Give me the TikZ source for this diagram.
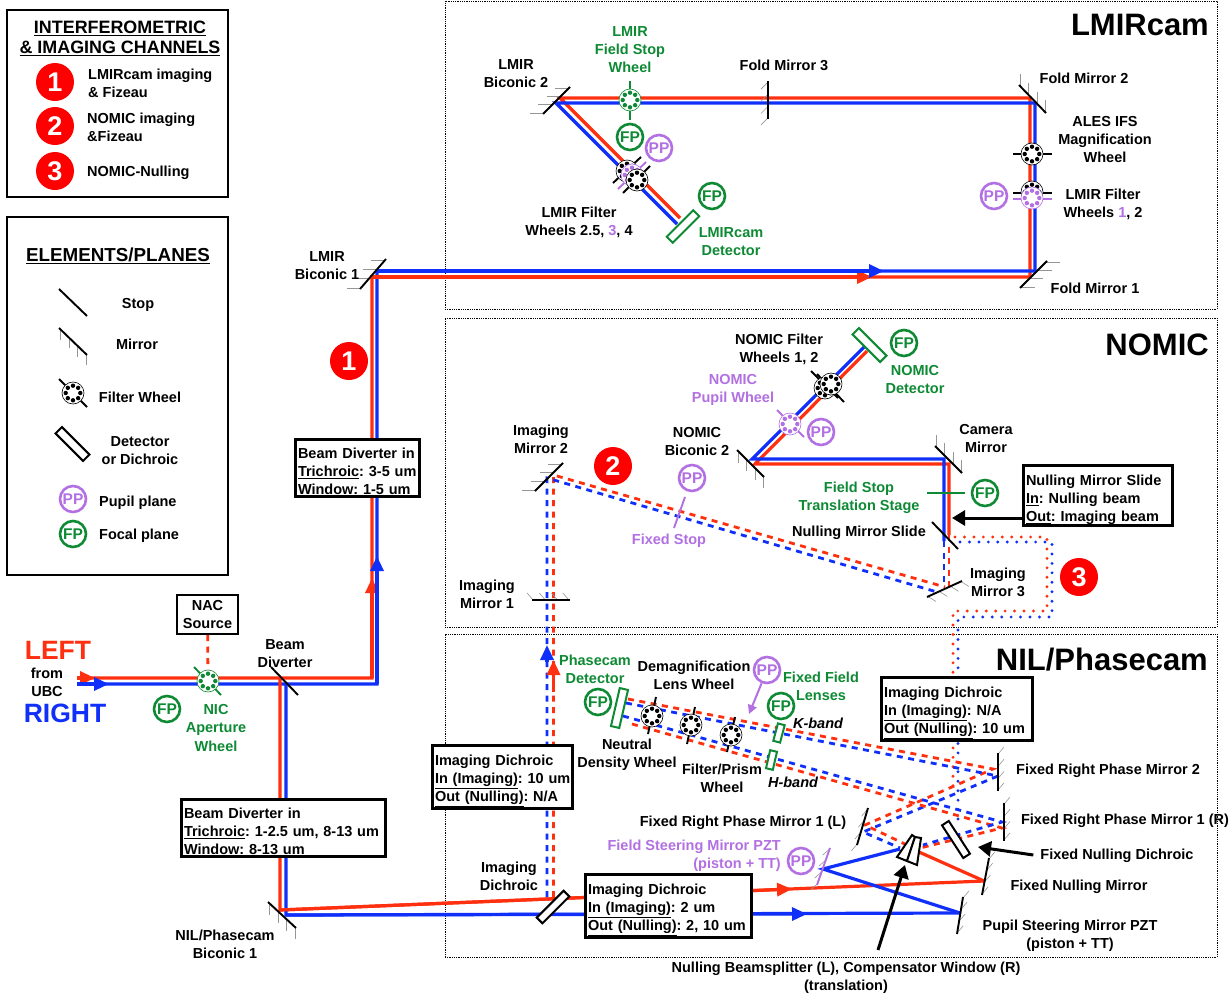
\documentclass[tikz,border=0pt]{standalone}
\usepackage{fontspec}
\setmainfont{Liberation Sans}
\usetikzlibrary{arrows.meta,calc}
\definecolor{beamred}{RGB}{255,48,16}
\definecolor{beamblue}{RGB}{16,48,250}
\definecolor{fpgreen}{RGB}{14,138,52}
\definecolor{ppplum}{RGB}{178,112,226}
\definecolor{hatchgray}{RGB}{150,150,150}
\newcommand{\mirrorline}[4][black]{%
  \foreach \pos in {0.03,0.35,0.67,0.97} \draw[hatchline] ($#2!\pos!#3$) -- ++#4;
  \draw[stopline,draw=#1] #2 -- #3;
}
\newcommand{\opticwheel}[3]{%
  \node[wheelnode,draw=#3] (#1) at #2 {};
  \foreach \ang in {0,45,...,315} \fill[#3] (#1) ++(\ang:7.3) circle (2.2pt);
}
\begin{document}
\begin{tikzpicture}[x=1pt,y=-1pt]
\tikzset{
  lbl/.style={inner sep=0pt,yshift=-1pt,align=center,font=\fontsize{14.5}{18}\selectfont\bfseries\frenchspacing},
  greenlbl/.style={lbl,text=fpgreen},
  plumlbl/.style={lbl,text=ppplum},
  lefttext/.style={lbl,anchor=west,align=left},
  paneltitle/.style={inner sep=0pt,anchor=east,font=\fontsize{31}{31}\selectfont\bfseries},
  panelbox/.style={draw=black,line width=0.8pt,densely dotted,inner sep=0pt},
  legendbox/.style={draw=black,line width=2pt,fill=white,inner sep=0pt},
  infobox/.style={draw=black,line width=3pt,fill=white,inner xsep=3pt,inner ysep=1pt,align=left,text width=#1,font=\fontsize{14.5}{18}\selectfont\bfseries\frenchspacing,execute at begin node={\rule{0pt}{19pt}}},
  channode/.style={circle,fill=red,text=white,inner sep=0pt,minimum size=38pt,font=\fontsize{27}{27}\selectfont\bfseries},
  ppnode/.style={circle,draw=ppplum,fill=white,text=ppplum,line width=2.6pt,inner sep=0pt,minimum size=26pt,font=\fontsize{15.5}{15.5}\selectfont\bfseries},
  fpnode/.style={circle,draw=fpgreen,fill=white,text=fpgreen,line width=2.6pt,inner sep=0pt,minimum size=26pt,font=\fontsize{15.5}{15.5}\selectfont\bfseries},
  wheelnode/.style={circle,fill=white,line width=0.6pt,inner sep=0pt,minimum size=22pt},
  detbox/.style={rectangle,draw=black,fill=white,line width=2pt,inner sep=0pt},
  stopline/.style={draw=black,line width=1.9pt},
  hatchline/.style={draw=hatchgray,line width=0.6pt},
  redbeam/.style={draw=beamred,line width=3.2pt},
  bluebeam/.style={draw=beamblue,line width=3.2pt},
  beamdash/.style={line width=2.8pt,dash pattern=on 6pt off 5.5pt},
  beamdot/.style={line cap=round,dash pattern=on 0pt off 9.45pt},
  redtip/.style={redbeam,-{Triangle[length=15pt,width=13pt]}},
  bluetip/.style={bluebeam,-{Triangle[length=15pt,width=13pt]}},
  callout/.style={draw=black,line width=3pt,-{Triangle[length=13pt,width=15pt]}}
}
\useasboundingbox (0,0) rectangle (1232,996);
\fill[white] (0,0) rectangle (1232,996);
\node[panelbox,minimum width=772,minimum height=308] (p_lmir) at (831,155) {};
\node[panelbox,minimum width=772,minimum height=309] (p_nomic) at (831,472.5) {};
\node[panelbox,minimum width=772,minimum height=323] (p_nil) at (831,795.5) {};
\node[paneltitle] (t_lmir) at (1209,25) {LMIRcam};
\node[paneltitle] (t_nomic) at (1209,345) {NOMIC};
\node[paneltitle] (t_nil) at (1208,660) {NIL/Phasecam};
\node[legendbox,minimum width=221,minimum height=187] (box_chan) at (117.5,103.5) {};
\node[legendbox,minimum width=221,minimum height=358] (box_elem) at (117.5,396) {};

\coordinate (r_in) at (77,678);
\coordinate (r_turn) at (372,678);
\coordinate (r_bic1) at (372,277);
\coordinate (r_fold1) at (1030,277);
\coordinate (r_fold2) at (1030,98);
\coordinate (r_bic2) at (560,98);
\coordinate (r_det) at (680,218);
\coordinate (r_div) at (280,678);
\coordinate (r_nil) at (280,910);
\coordinate (r_null) at (984,881);
\coordinate (b_in) at (77,684);
\coordinate (b_turn) at (377,684);
\coordinate (b_bic1) at (377,271);
\coordinate (b_fold1) at (1035,271);
\coordinate (b_fold2) at (1035,103);
\coordinate (b_bic2) at (556,103);
\coordinate (b_det) at (677,224);
\coordinate (b_div) at (286,684);
\coordinate (b_nil) at (286,915);
\coordinate (b_pupil) at (960,913);
\coordinate (r_tip_in) at (95,678);
\coordinate (b_tip_in) at (109,684);
\coordinate (r_tip_up) at (372,578);
\coordinate (b_tip_up) at (377,556);
\coordinate (r_tip_top) at (872,277);
\coordinate (b_tip_top) at (884,271);
\coordinate (r_tip_nil) at (792,889);
\coordinate (b_tip_nil) at (807,914);
\draw[redbeam,line join=miter] (r_in) -- (r_turn) -- (r_bic1) -- (r_fold1) -- (r_fold2) -- (r_bic2) -- (r_det);
\draw[bluebeam,line join=miter] (b_in) -- (b_turn) -- (b_bic1) -- (b_fold1) -- (b_fold2) -- (b_bic2) -- (b_det);
\draw[redbeam] (r_div) -- (r_nil) -- (r_null);
\draw[bluebeam] (b_div) -- (b_nil) -- (b_pupil);
\draw[redtip] (r_in) -- (r_tip_in);
\draw[bluetip] (b_in) -- (b_tip_in);
\draw[redtip] (r_turn) -- (r_tip_up);
\draw[bluetip] (b_turn) -- (b_tip_up);
\draw[redtip] (r_bic1) -- (r_tip_top);
\draw[bluetip] (b_bic1) -- (b_tip_top);
\draw[redtip] (r_nil) -- (r_tip_nil);
\draw[bluetip] (b_nil) -- (b_tip_nil);

\coordinate (r_dich) at (553.5,897);
\coordinate (r_img2) at (553.5,475);
\coordinate (r_img3) at (945,587);
\coordinate (b_dich) at (547,897);
\coordinate (b_img2) at (547,478);
\coordinate (b_img3) at (937,592);
\coordinate (r_tip_img) at (553.5,660);
\coordinate (b_tip_img) at (547,645);
\draw[redbeam,beamdash] (r_dich) -- (r_img2) -- (r_img3);
\draw[bluebeam,beamdash] (b_dich) -- (b_img2) -- (b_img3);
\draw[redtip] (r_dich) ++(0,-205) coordinate (r_tail_img) -- (r_tip_img);
\draw[bluetip] (b_dich) ++(0,-235) coordinate (b_tail_img) -- (b_tip_img);

\coordinate (r_ndet) at (867,351);
\coordinate (r_nbic) at (755,464);
\coordinate (r_cam) at (949,464);
\coordinate (r_slide) at (949,535);
\coordinate (r_m3) at (949,587);
\coordinate (b_ndet) at (864,347);
\coordinate (b_nbic) at (752,459);
\coordinate (b_cam) at (944,459);
\coordinate (b_slide) at (944,541);
\coordinate (b_m3) at (944,584);
\draw[redbeam] (r_ndet) -- (r_nbic) -- (r_cam) -- (r_slide);
\draw[bluebeam] (b_ndet) -- (b_nbic) -- (b_cam) -- (b_slide);
\draw[redbeam,beamdash] (r_slide) -- (r_m3);
\draw[bluebeam,beamdash] (b_slide) -- (b_m3);

\coordinate (r_dot_a) at (955,537);
\coordinate (r_dot_b) at (1047,537);
\coordinate (r_dot_c) at (1047,611);
\coordinate (r_dot_d) at (953,611);
\coordinate (r_dot_e) at (953,793);
\coordinate (b_dot_a) at (960,542);
\coordinate (b_dot_b) at (1052,542);
\coordinate (b_dot_c) at (1052,617);
\coordinate (b_dot_d) at (958,617);
\coordinate (b_dot_e) at (958,828);
\draw[redbeam,beamdot] (r_dot_a) -- (r_dot_b) -- (r_dot_c) -- (r_dot_d) -- (r_dot_e);
\draw[bluebeam,beamdot] (b_dot_a) -- (b_dot_b) -- (b_dot_c) -- (b_dot_d) -- (b_dot_e);

\coordinate (r_pc_a) at (628,699);
\coordinate (r_rm2) at (993,769);
\coordinate (r_lm1) at (865,825);
\coordinate (r_bs_l) at (907,845);
\coordinate (b_pc_a) at (626,703);
\coordinate (b_rm2) at (998,776);
\coordinate (b_lm1) at (863,832);
\coordinate (b_bs_l) at (900,848);
\coordinate (r_pc_b) at (632,724);
\coordinate (r_rm1) at (1002,828);
\coordinate (r_bs_r) at (920,848);
\coordinate (b_pc_b) at (623,716);
\coordinate (b_rm1) at (1002,822);
\coordinate (b_bs_r) at (923,845);
\draw[redbeam,beamdash] (r_pc_a) -- (r_rm2) -- (r_lm1) -- (r_bs_l);
\draw[bluebeam,beamdash] (b_pc_a) -- (b_rm2) -- (b_lm1) -- (b_bs_l);
\draw[redbeam,beamdash] (r_pc_b) -- (r_rm1) -- (r_bs_r);
\draw[bluebeam,beamdash] (b_pc_b) -- (b_rm1) -- (b_bs_r);
\coordinate (b_steer) at (823,869);
\coordinate (b_bs_in) at (900,849);
\coordinate (r_bs_in) at (919,852);
\draw[bluebeam] (b_pupil) -- (b_steer) -- (b_bs_in);
\draw[redbeam] (r_null) -- (r_bs_in);

\mirrorline{(360,289)}{(386,259)}{(-14,0)}
\mirrorline{(1020,288)}{(1047,261)}{(14,0)}
\mirrorline{(1019,85)}{(1046,113)}{(0,-12)}
\mirrorline{(543,114)}{(570,87)}{(-14,0)}
\mirrorline{(768,81)}{(768,119)}{(-7,7)}
\mirrorline{(268,902)}{(296,928)}{(0,12)}
\mirrorline{(737,450)}{(764,477)}{(0,12)}
\mirrorline{(935,446)}{(962,473)}{(0,-12)}
\mirrorline{(927,597)}{(962,581)}{(8,5)}
\mirrorline{(532,600)}{(570,600)}{(-6,-7)}
\mirrorline{(535,491)}{(563,463)}{(-14,0)}
\mirrorline{(998,753)}{(998,791)}{(6,-7)}
\mirrorline{(1004,803)}{(1004,841)}{(6,-7)}
\mirrorline{(857,845)}{(868,808)}{(-6,7)}
\mirrorline{(982,895)}{(989,858)}{(6,-7)}
\mirrorline{(957,934)}{(963,897)}{(6,-7)}
\mirrorline[ppplum]{(817,885)}{(830,848)}{(-7,6)}
\mirrorline{(59,328)}{(87,355)}{(0,11)}
\draw[stopline] (59,289) -- (87,316);
\draw[stopline] (271,667) -- (298,695);
\draw[stopline] (932,522) -- (958,549);
\draw[stopline,draw=fpgreen] (194,667) -- (221,695);
\draw[stopline,draw=fpgreen] (630,81) -- (630,120);
\draw[stopline,draw=fpgreen] (927,493) -- (965,493);
\draw[stopline,draw=ppplum] (685,497) -- (674,528);
\draw[stopline] (59,379) -- (87,407);
\draw[stopline] (613,183) -- (641,157);
\draw[stopline,draw=ppplum] (618,189) -- (646,162);
\draw[stopline] (623,193) -- (650,166);
\draw[stopline] (1013,154) -- (1052,154);
\draw[stopline] (1013,193) -- (1052,193);
\draw[stopline,draw=ppplum] (1013,199) -- (1052,199);
\draw[stopline] (811,371) -- (838,398);
\draw[stopline] (817,374) -- (844,402);
\draw[stopline,draw=ppplum] (777,410) -- (804,437);
\draw[stopline] (656,697) -- (648,734);
\draw[stopline] (695,707) -- (687,744);
\draw[stopline] (735,717) -- (727,752);

\opticwheel{w_field}{(630,100)}{fpgreen}
\opticwheel{w_lf_a}{(627,171)}{black}
\opticwheel{w_lf_b}{(632,175)}{ppplum}
\opticwheel{w_lf_c}{(637,180)}{black}
\opticwheel{w_ales}{(1032,154)}{black}
\opticwheel{w_lmf_a}{(1032,192)}{black}
\opticwheel{w_lmf_b}{(1032,198)}{ppplum}
\opticwheel{w_nic}{(208,681)}{fpgreen}
\opticwheel{w_nf_a}{(825,388)}{black}
\opticwheel{w_nf_b}{(831,384)}{black}
\opticwheel{w_npupil}{(790,424)}{ppplum}
\opticwheel{w_demag}{(652,716)}{black}
\opticwheel{w_nd}{(691,725)}{black}
\opticwheel{w_prism}{(731,735)}{black}
\opticwheel{w_legend}{(73,393)}{black}

\node[detbox,rotate=-45,minimum width=39,minimum height=9] (d_legend) at (72.5,444) {};
\node[detbox,draw=fpgreen,rotate=45,minimum width=37.5,minimum height=8.5] (d_lmir) at (683,226.5) {};
\node[detbox,draw=fpgreen,rotate=-45,minimum width=39,minimum height=9] (d_nomic) at (869.5,345) {};
\node[detbox,rotate=45,minimum width=38,minimum height=8] (d_dich) at (553,907) {};
\node[detbox,draw=fpgreen,rotate=77,minimum width=39,minimum height=8.5] (d_phase) at (619.5,708) {};
\node[detbox,draw=fpgreen,rotate=75,minimum width=18,minimum height=7] (d_kband) at (779,733) {};
\node[detbox,draw=fpgreen,rotate=77,minimum width=18.5,minimum height=7] (d_hband) at (771.5,760) {};
\node[detbox,rotate=-57,minimum width=39,minimum height=8] (d_null) at (956,839.5) {};
\draw[detbox] (912,835) -- (897,857) -- (907,861) -- (915,837) -- cycle;
\draw[detbox] (915,837) -- (907,861) -- (917,865) -- (921,838) -- cycle;

\node[lbl,font=\fontsize{17.9}{20}\selectfont\bfseries] (t_chan) at (120,37) {\underline{INTERFEROMETRIC}\\\underline{\& IMAGING CHANNELS}};
\node[lbl,font=\fontsize{18.8}{20}\selectfont\bfseries] (t_elem) at (118,255) {\underline{ELEMENTS/PLANES}};
\node[channode] (c_leg1) at (55,82) {1};
\node[channode] (c_leg2) at (55,126) {2};
\node[channode] (c_leg3) at (55,171) {3};
\node[lefttext] (t_leg1) at (88,82) {LMIRcam imaging\\\& Fizeau};
\node[lefttext] (t_leg2) at (87,126) {NOMIC imaging\\\&Fizeau};
\node[lefttext] (t_leg3) at (87,172) {NOMIC-Nulling};
\node[lbl] (t_stop) at (138,304) {Stop};
\node[lbl] (t_mirror) at (137,343) {Mirror};
\node[lbl] (t_wheel) at (140,396) {Filter Wheel};
\node[lbl] (t_detector) at (140,450) {Detector\\or Dichroic};
\node[ppnode] (pp_legend) at (73,499) {PP};
\node[fpnode] (fp_legend) at (73,534) {FP};
\node[lefttext] (t_pupil) at (99,502) {Pupil plane};
\node[lefttext] (t_focal) at (99,535) {Focal plane};

\node[channode] (c_beam1) at (349,361) {1};
\node[channode] (c_beam2) at (613,466) {2};
\node[channode] (c_beam3) at (1079,577) {3};

\node[lbl,text=beamred,font=\fontsize{26.5}{27}\selectfont\bfseries] (t_left) at (58,649) {LEFT};
\node[lbl,text=beamblue,font=\fontsize{26.5}{27}\selectfont\bfseries] (t_right) at (65,712) {RIGHT};
\node[lbl] (t_ubc) at (47,681) {from\\UBC};
\node[lbl] (t_bic1) at (327,265) {LMIR\\Biconic 1};
\node[lbl] (t_bic2) at (516,73) {LMIR\\Biconic 2};
\node[greenlbl] (t_fstop) at (630,49) {LMIR\\Field Stop\\Wheel};
\node[lbl] (t_fold3) at (784,64) {Fold Mirror 3};
\node[lbl] (t_fold2) at (1084,77) {Fold Mirror 2};
\node[lbl] (t_fold1) at (1095,287) {Fold Mirror 1};
\node[lbl] (t_ales) at (1105,139) {ALES IFS\\Magnification\\Wheel};
\node[lbl] (t_lf12) at (1103,203) {LMIR Filter\\Wheels {\color{ppplum}1}, 2};
\node[lbl] (t_lf25) at (579,221) {LMIR Filter\\Wheels 2.5, {\color{ppplum}3}, 4};
\node[greenlbl] (t_ldet) at (731,241) {LMIRcam\\Detector};
\node[fpnode] (fp_field) at (630,137) {FP};
\node[ppnode] (pp_lf) at (659,148) {PP};
\node[fpnode] (fp_ldet) at (712,196) {FP};
\node[ppnode] (pp_lmf) at (994,196) {PP};

\node[lbl] (t_nf) at (779,348) {NOMIC Filter\\Wheels 1, 2};
\node[plumlbl] (t_npw) at (733,389) {NOMIC\\Pupil Wheel};
\node[greenlbl] (t_ndet) at (915,379) {NOMIC\\Detector};
\node[fpnode] (fp_ndet) at (904,343) {FP};
\node[ppnode] (pp_npw) at (821,432) {PP};
\node[lbl] (t_nbic) at (697,441) {NOMIC\\Biconic 2};
\node[ppnode] (pp_fixed) at (692,478) {PP};
\node[plumlbl] (t_fixed) at (669,540) {Fixed Stop};
\node[lbl] (t_cam) at (986,438) {Camera\\Mirror};
\node[fpnode] (fp_stage) at (985,493) {FP};
\node[greenlbl] (t_stage) at (859,497) {Field Stop\\Translation Stage};
\node[lbl] (t_nslide) at (859,532) {Nulling Mirror Slide};
\node[lbl] (t_img2) at (541,438.5) {Imaging\\Mirror 2};
\node[lbl] (t_img1) at (487,593.5) {Imaging\\Mirror 1};
\node[lbl] (t_img3) at (998,581) {Imaging\\Mirror 3};
\node[infobox=143,inner ysep=0.5pt] (box_slide) at (1097.5,495.5) {Nulling Mirror Slide\\\underline{In}: Nulling beam\\\underline{Out}: Imaging beam};
\coordinate (c_slide_tip) at (952,518);
\draw[callout] (box_slide.west |- c_slide_tip) -- (c_slide_tip);

\node[lbl] (t_beam) at (285,652.5) {Beam\\Diverter};
\node[lbl,draw=black,fill=white,line width=2pt,minimum width=61,minimum height=39] (box_nac) at (207.5,613.5) {NAC\\Source};
\draw[redbeam,beamdash] (box_nac) -- (w_nic);
\node[greenlbl] (t_nic) at (216,727) {NIC\\Aperture\\Wheel};
\node[fpnode] (fp_nic) at (167,709) {FP};
\node[infobox=118,inner ysep=0pt] (box_div1) at (357,468) {Beam Diverter in\\\mbox{\underline{Trichroic}: 3-5 um}\\\underline{Window}: 1-5 um};
\node[infobox=198,inner ysep=0pt,execute at begin node={\rule{0pt}{16pt}}] (box_div2) at (283,828) {Beam Diverter in\\\underline{Trichroic}: 1-2.5 um, 8-13 um\\\underline{Window}: 8-13 um};
\node[lbl] (t_nilbic) at (225,943) {NIL/Phasecam\\Biconic 1};
\node[lbl] (t_dich) at (509,875) {Imaging\\Dichroic};

\node[greenlbl] (t_pdet) at (595,668.5) {Phasecam\\Detector};
\node[fpnode] (fp_pdet) at (598,702) {FP};
\node[lbl] (t_demag) at (694,674.5) {Demagnification\\Lens Wheel};
\node[lbl] (t_nd) at (627,754) {Neutral\\Density Wheel};
\node[lbl] (t_prism) at (722,777) {Filter/Prism\\Wheel};
\node[ppnode] (pp_lens) at (767,670) {PP};
\coordinate (c_pp_tip) at (749,714);
\draw[draw=ppplum,line width=2pt,-{Triangle[length=9pt,width=9pt]}] (pp_lens) -- (c_pp_tip);
\node[greenlbl] (t_lens) at (821,685) {Fixed Field\\Lenses};
\node[fpnode] (fp_lens) at (781,706) {FP};
\node[lbl,font=\fontsize{14.5}{18}\selectfont\bfseries\itshape] (t_kband) at (818,722) {K-band};
\node[lbl,font=\fontsize{14.5}{18}\selectfont\bfseries\itshape] (t_hband) at (793,781) {H-band};
\node[infobox=145] (box_dich_a) at (956.5,709) {Imaging Dichroic\\\underline{In (Imaging)}: N/A\\\underline{Out (Nulling)}: 10 um};
\node[infobox=134] (box_dich_b) at (502,777) {Imaging Dichroic\\\mbox{\underline{In (Imaging)}: 10 um}\\\underline{Out (Nulling)}: N/A};
\node[infobox=160] (box_dich_c) at (668,906) {Imaging Dichroic\\\underline{In (Imaging)}: 2 um\\\underline{Out (Nulling)}: 2, 10 um};
\node[lbl] (t_rm2) at (1108,770) {Fixed Right Phase Mirror 2};
\node[lbl] (t_rm1) at (1125,820) {Fixed Right Phase Mirror 1 (R)};
\node[lbl] (t_lm1) at (743,822) {Fixed Right Phase Mirror 1 (L)};
\node[lbl,text=ppplum,align=right,anchor=east] (t_steer) at (781,855) {Field Steering Mirror PZT\\(piston + TT)};
\node[ppnode] (pp_steer) at (801,861) {PP};
\node[lbl] (t_fnd) at (1117,855) {Fixed Nulling Dichroic};
\node[lbl] (t_fnm) at (1079,886) {Fixed Nulling Mirror};
\node[lbl] (t_psm) at (1070,935) {Pupil Steering Mirror PZT\\(piston + TT)};
\node[lbl] (t_split) at (846,977) {Nulling Beamsplitter (L), Compensator Window (R)\\(translation)};
\coordinate (c_fnd_tip) at (978,847);
\coordinate (c_split_tail) at (878,950);
\coordinate (c_split_tip) at (905,865);
\draw[callout,shorten <=7pt] (t_fnd.west) -- (c_fnd_tip);
\draw[callout] (c_split_tail) -- (c_split_tip);
\end{tikzpicture}
\end{document}
